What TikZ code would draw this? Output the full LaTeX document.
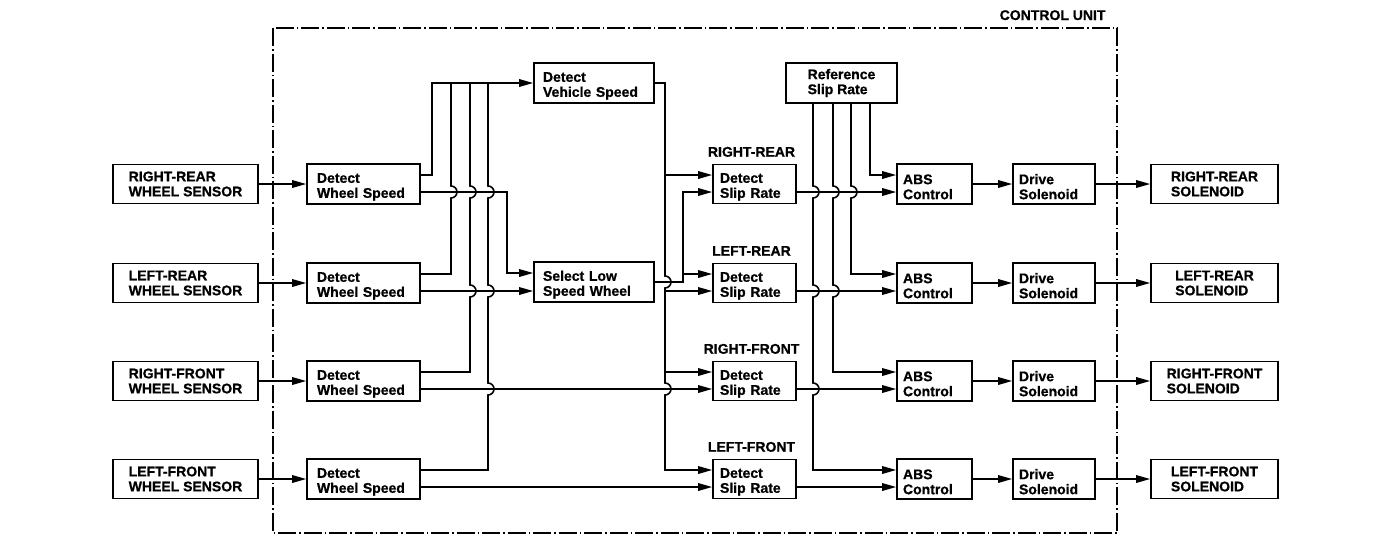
\documentclass[tikz,border=0pt]{standalone}
\usepackage{fontspec}
\setmainfont{Liberation Sans}[BoldFeatures={FakeBold=0.8}]
\usetikzlibrary{arrows.meta,calc}
\begin{document}
\begin{tikzpicture}[x=1pt,y=-1pt,
  txt/.style={font=\bfseries\fontsize{14}{15}\selectfont},
  box/.style={txt, draw, line width=1.6pt, align=left, inner ysep=0pt, minimum height=39pt,
    execute at begin node={\rule{0pt}{15.5pt}}},
  sensor/.style={box, minimum width=145pt},
  dws/.style={box, text width=93pt, inner xsep=10pt, minimum height=40pt},
  calc2/.style={box, text width=102pt, inner xsep=9pt, minimum height=40pt},
  rsrbox/.style={box, minimum width=111pt, minimum height=40pt},
  dsr/.style={box, text width=69pt, inner xsep=7pt},
  absbox/.style={box, text width=63pt, inner xsep=6pt, minimum height=40pt},
  drv/.style={box, text width=70pt, inner xsep=6pt, minimum height=40pt},
  sol/.style={box, minimum width=127pt},
  wire/.style={line width=1.6pt},
  arr/.style={wire, -{Triangle[length=14pt,width=7.5pt]}},
  lbl/.style={txt},
  cu/.style={line width=1.3pt, dash pattern=on 18pt off 3pt on 1.5pt off 3pt}
]
\useasboundingbox (0,0) rectangle (1376,558);

% control unit frame
\draw[cu] (273,28) rectangle (1117,533);
\node[lbl, anchor=base east] (cul) at (1109,20) {CONTROL UNIT};

% sensors
\node[sensor] (s1) at (185.5,184) {RIGHT-REAR\\WHEEL SENSOR};
\node[sensor] (s2) at (185.5,283) {LEFT-REAR\\WHEEL SENSOR};
\node[sensor] (s3) at (185.5,381) {RIGHT-FRONT\\WHEEL SENSOR};
\node[sensor] (s4) at (185.5,479) {LEFT-FRONT\\WHEEL SENSOR};

% detect wheel speed
\node[dws] (w1) at (363.5,184) {Detect\\Wheel Speed};
\node[dws] (w2) at (363.5,283) {Detect\\Wheel Speed};
\node[dws] (w3) at (363.5,381) {Detect\\Wheel Speed};
\node[dws] (w4) at (363.5,479) {Detect\\Wheel Speed};

% vehicle speed / select low
\node[calc2] (dvs) at (594,83) {Detect\\Vehicle Speed};
\node[calc2] (sl) at (594,282) {Select Low\\Speed Wheel};

% reference slip rate
\node[rsrbox] (rsr) at (841.5,83) {Reference\\Slip Rate};

% detect slip rate
\node[dsr] (d1) at (754.5,184) {Detect\\Slip Rate};
\node[dsr] (d2) at (754.5,283) {Detect\\Slip Rate};
\node[dsr] (d3) at (754.5,381) {Detect\\Slip Rate};
\node[dsr] (d4) at (754.5,479) {Detect\\Slip Rate};
\node[lbl, anchor=base] (l1) at ([xshift=-3pt,yshift=7pt]d1.north) {RIGHT-REAR};
\node[lbl, anchor=base] (l2) at ([xshift=-3pt,yshift=7pt]d2.north) {LEFT-REAR};
\node[lbl, anchor=base] (l3) at ([xshift=-3pt,yshift=7pt]d3.north) {RIGHT-FRONT};
\node[lbl, anchor=base] (l4) at ([xshift=-3pt,yshift=7pt]d4.north) {LEFT-FRONT};

% ABS control
\node[absbox] (a1) at (934.5,184) {ABS\\Control};
\node[absbox] (a2) at (934.5,283) {ABS\\Control};
\node[absbox] (a3) at (934.5,381) {ABS\\Control};
\node[absbox] (a4) at (934.5,479) {ABS\\Control};

% drive solenoid
\node[drv] (v1) at (1054,184) {Drive\\Solenoid};
\node[drv] (v2) at (1054,283) {Drive\\Solenoid};
\node[drv] (v3) at (1054,381) {Drive\\Solenoid};
\node[drv] (v4) at (1054,479) {Drive\\Solenoid};

% solenoids
\node[sol] (o1) at (1214.5,184) {RIGHT-REAR\\SOLENOID};
\node[sol] (o2) at (1214.5,283) {LEFT-REAR\\SOLENOID};
\node[sol] (o3) at (1214.5,381) {RIGHT-FRONT\\SOLENOID};
\node[sol] (o4) at (1214.5,479) {LEFT-FRONT\\SOLENOID};

% straight chains
\foreach \i in {1,2,3,4}{
  \draw[arr] (s\i) -- (w\i);
  \draw[arr] (a\i) -- (v\i);
  \draw[arr] (v\i) -- (o\i);
  \draw[arr] ([yshift=-8pt]d\i.east) -- ([yshift=-8pt]a\i.west);
}

% wheel speeds to vehicle speed
\draw[arr] ([yshift=9pt]w1.east) -| (432,83) -- (dvs.west);
\draw[wire] ([yshift=9pt]w2.east) -- (451,274) -- (451,198)
  arc[start angle=-90,end angle=90,radius=6pt] -- (451,83);
\draw[wire] ([yshift=9pt]w3.east) -- (470,372) -- (470,297)
  arc[start angle=-90,end angle=90,radius=6pt] -- (470,198)
  arc[start angle=-90,end angle=90,radius=6pt] -- (470,83);
\draw[wire] ([yshift=9pt]w4.east) -- (488,470) -- (488,395)
  arc[start angle=-90,end angle=90,radius=6pt] -- (488,297)
  arc[start angle=-90,end angle=90,radius=6pt] -- (488,198)
  arc[start angle=-90,end angle=90,radius=6pt] -- (488,83);

% wheel speeds to select low / slip rate
\draw[arr] ([yshift=-8pt]w1.east) -| (507,273) -- ([yshift=9pt]sl.west);
\draw[arr] ([yshift=-8pt]w2.east) -- ([yshift=-8pt]w2.east -| sl.west);
\draw[arr] ([yshift=-8pt]w3.east) -- ([yshift=-8pt]d3.west);
\draw[arr] ([yshift=-8pt]w4.east) -- ([yshift=-8pt]d4.west);

% vehicle speed trunk
\draw[arr] (dvs.east) -- (665,83) -- (665,276)
  arc[start angle=90,end angle=-90,radius=6pt] -- (665,383)
  arc[start angle=90,end angle=-90,radius=6pt] -- (665,470) -- ([yshift=9pt]d4.west);
\draw[arr] (665,175) -- ([yshift=9pt]d1.west);
\draw[arr] (665,291) -- ([yshift=-8pt]d2.west);
\draw[arr] (665,372) -- ([yshift=9pt]d3.west);

% select low trunk
\draw[arr] (sl.east) -- (683,282) -- (683,192) -- ([yshift=-8pt]d1.west);
\draw[arr] (683,274) -- ([yshift=9pt]d2.west);

% reference slip rate
\draw[arr] (870,103) -- (870,175) -- ([yshift=9pt]a1.west);
\draw[arr] (851,103) -- (851,186)
  arc[start angle=90,end angle=-90,radius=6pt] -- (851,274) -- ([yshift=9pt]a2.west);
\draw[arr] (833,103) -- (833,186)
  arc[start angle=90,end angle=-90,radius=6pt] -- (833,285)
  arc[start angle=90,end angle=-90,radius=6pt] -- (833,372) -- ([yshift=9pt]a3.west);
\draw[arr] (813,103) -- (813,186)
  arc[start angle=90,end angle=-90,radius=6pt] -- (813,285)
  arc[start angle=90,end angle=-90,radius=6pt] -- (813,383)
  arc[start angle=90,end angle=-90,radius=6pt] -- (813,470) -- ([yshift=9pt]a4.west);
\end{tikzpicture}
\end{document}
